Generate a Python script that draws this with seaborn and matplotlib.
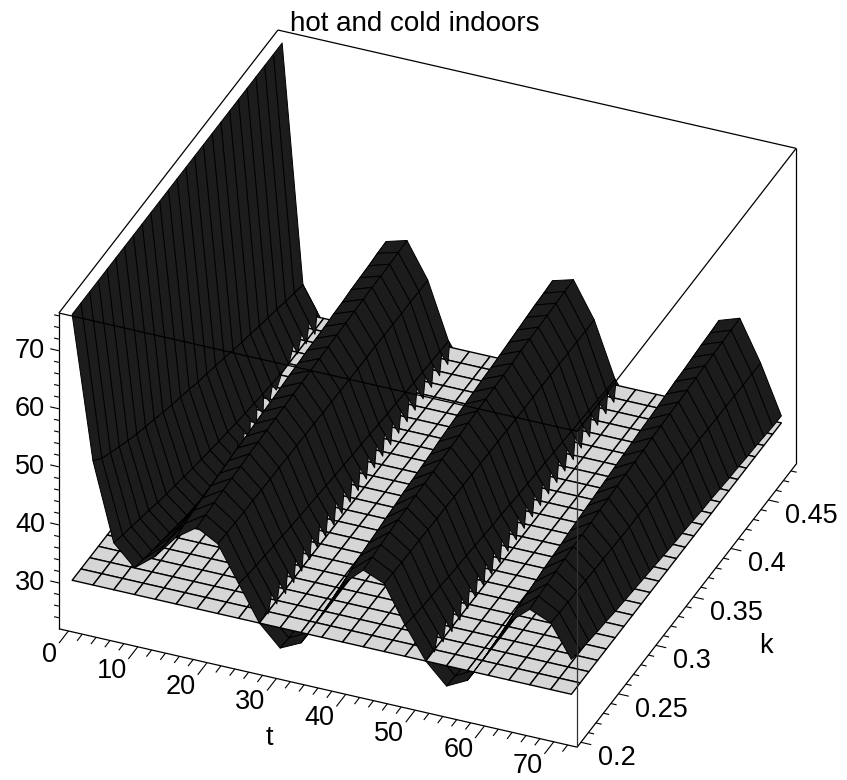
"""Hot and cold indoors: temperature surface over time t and rate k, with a flat reference plane."""
import matplotlib
matplotlib.use("Agg")
import matplotlib.pyplot as plt
import numpy as np
import seaborn as sns
from mpl_toolkits.mplot3d import proj3d
from mpl_toolkits.mplot3d.art3d import Poly3DCollection

t_grid = [0, 3, 6, 9, 12, 15, 18, 21, 24, 27, 30, 33, 36, 39, 42, 45, 48, 51, 54, 57, 60, 63, 66, 69, 72]
k_grid = [0.2, 0.2117, 0.2233, 0.235, 0.2467, 0.2583, 0.27, 0.2817, 0.2933, 0.305, 0.3167, 0.3283, 0.34,
          0.3517, 0.3633, 0.375, 0.3867, 0.3983, 0.41, 0.4217, 0.4333, 0.445, 0.4567, 0.4683, 0.48]
plane_level = 30

# temperature, one list per time step, running along k
temp_t00 = [75.8] * 25
temp_t03 = [51.4, 49.9, 48.9, 48.0, 47.1, 46.3, 45.6, 44.9, 44.2, 43.5, 42.9, 42.3, 41.6, 41.1, 40.5, 39.9, 39.3, 38.7, 38.2, 37.6, 37.1, 36.6, 36.0, 35.5, 35.0]
temp_t06 = [38.1, 37.5, 37.0, 36.4, 35.9, 35.3, 34.8, 34.3, 33.9, 33.4, 33.0, 32.6, 32.2, 31.9, 31.5, 31.2, 30.9, 30.6, 30.3, 30.1, 29.9, 29.7, 29.5, 29.2, 29.0]
temp_t09 = [34.6, 34.1, 33.6, 33.2, 32.8, 32.3, 31.9, 31.4, 31.0, 30.5, 30.0, 29.6, 29.2, 28.9, 28.6, 28.2, 27.9, 27.6, 27.3, 27.1, 26.9, 26.7, 26.4, 26.2, 26.0]
temp_t12 = [37.4, 37.3, 37.2, 37.1, 37.0, 37.0, 36.9, 36.8, 36.8, 36.7, 36.7, 36.6, 36.6, 36.5, 36.5, 36.4, 36.4, 36.3, 36.3, 36.2, 36.2, 36.1, 36.1, 36.0, 36.0]
temp_t15 = [41.5, 41.9, 42.2, 42.4, 42.6, 42.8, 43.0, 43.2, 43.3, 43.5, 43.7, 43.8, 44.0, 44.2, 44.3, 44.5, 44.6, 44.7, 44.9, 45.0, 45.2, 45.3, 45.4, 45.6, 45.7]
temp_t18 = [44.0, 44.2, 44.4, 44.6, 44.7, 44.8, 45.0, 45.1, 45.2, 45.3, 45.4, 45.5, 45.6, 45.7, 45.8, 45.9, 46.0, 46.1, 46.2, 46.3, 46.4, 46.4, 46.5, 46.6, 46.7]
temp_t21 = [42.0, 41.9, 41.8, 41.7, 41.7, 41.6, 41.5, 41.5, 41.4, 41.4, 41.3, 41.3, 41.2, 41.2, 41.1, 41.1, 41.0, 41.0, 41.0, 40.9, 40.9, 40.8, 40.8, 40.7, 40.7]
temp_t24 = [36.0, 35.5, 35.2, 35.0, 34.7, 34.5, 34.2, 34.0, 33.8, 33.6, 33.4, 33.2, 33.0, 32.8, 32.7, 32.5, 32.3, 32.1, 32.0, 31.8, 31.6, 31.5, 31.3, 31.2, 31.0]
temp_t27 = [30.0, 29.6, 29.4, 29.2, 29.0, 28.8, 28.6, 28.4, 28.2, 28.1, 27.9, 27.8, 27.6, 27.5, 27.3, 27.2, 27.0, 26.9, 26.8, 26.6, 26.5, 26.4, 26.3, 26.1, 26.0]
temp_t30 = [26.5, 26.3, 26.1, 26.0, 25.9, 25.7, 25.6, 25.5, 25.4, 25.3, 25.2, 25.1, 25.0, 24.9, 24.8, 24.7, 24.7, 24.6, 24.5, 24.4, 24.3, 24.2, 24.2, 24.1, 24.0]
temp_t33 = [28.2, 28.1, 28.0, 27.9, 27.9, 27.8, 27.8, 27.7, 27.7, 27.6, 27.6, 27.5, 27.5, 27.4, 27.4, 27.4, 27.3, 27.3, 27.2, 27.2, 27.2, 27.1, 27.1, 27.0, 27.0]
temp_t36 = [34.0, 34.2, 34.3, 34.4, 34.5, 34.6, 34.7, 34.8, 34.9, 35.0, 35.0, 35.1, 35.2, 35.3, 35.3, 35.4, 35.5, 35.5, 35.6, 35.7, 35.7, 35.8, 35.9, 35.9, 36.0]
temp_t39 = [40.0, 40.5, 40.9, 41.2, 41.4, 41.7, 41.9, 42.2, 42.4, 42.6, 42.8, 43.1, 43.3, 43.5, 43.7, 43.9, 44.1, 44.2, 44.4, 44.6, 44.8, 45.0, 45.2, 45.3, 45.5]
temp_t42 = [43.2, 43.5, 43.7, 43.9, 44.1, 44.2, 44.4, 44.5, 44.6, 44.8, 44.9, 45.0, 45.2, 45.3, 45.4, 45.5, 45.6, 45.7, 45.9, 46.0, 46.1, 46.2, 46.3, 46.4, 46.5]
temp_t45 = [41.7, 41.6, 41.5, 41.4, 41.4, 41.3, 41.2, 41.2, 41.1, 41.1, 41.0, 41.0, 40.9, 40.9, 40.8, 40.8, 40.7, 40.7, 40.7, 40.6, 40.6, 40.5, 40.5, 40.4, 40.4]
temp_t48 = [35.4, 35.0, 34.7, 34.5, 34.3, 34.0, 33.8, 33.7, 33.5, 33.3, 33.1, 33.0, 32.8, 32.6, 32.5, 32.3, 32.2, 32.0, 31.9, 31.7, 31.6, 31.4, 31.3, 31.1, 31.0]
temp_t51 = [30.0, 29.6, 29.4, 29.2, 29.0, 28.8, 28.6, 28.4, 28.2, 28.1, 27.9, 27.8, 27.6, 27.5, 27.3, 27.2, 27.0, 26.9, 26.8, 26.6, 26.5, 26.4, 26.3, 26.1, 26.0]
temp_t54 = [26.5, 26.3, 26.1, 26.0, 25.9, 25.7, 25.6, 25.5, 25.4, 25.3, 25.2, 25.1, 25.0, 24.9, 24.8, 24.7, 24.7, 24.6, 24.5, 24.4, 24.3, 24.2, 24.2, 24.1, 24.0]
temp_t57 = [28.3, 28.2, 28.1, 28.0, 28.0, 27.9, 27.8, 27.8, 27.7, 27.7, 27.6, 27.6, 27.5, 27.5, 27.4, 27.4, 27.3, 27.3, 27.2, 27.2, 27.2, 27.1, 27.1, 27.0, 27.0]
temp_t60 = [34.0, 34.2, 34.3, 34.4, 34.5, 34.6, 34.7, 34.8, 34.9, 35.0, 35.0, 35.1, 35.2, 35.3, 35.3, 35.4, 35.5, 35.5, 35.6, 35.7, 35.7, 35.8, 35.9, 35.9, 36.0]
temp_t63 = [40.0, 40.5, 40.8, 41.1, 41.4, 41.6, 41.8, 42.1, 42.3, 42.5, 42.7, 42.9, 43.1, 43.3, 43.5, 43.7, 43.8, 44.0, 44.2, 44.4, 44.5, 44.7, 44.9, 45.0, 45.2]
temp_t66 = [43.0, 43.3, 43.5, 43.7, 43.9, 44.1, 44.2, 44.3, 44.5, 44.6, 44.8, 44.9, 45.0, 45.1, 45.3, 45.4, 45.5, 45.6, 45.7, 45.9, 46.0, 46.1, 46.2, 46.3, 46.4]
temp_t69 = [41.5, 41.3, 41.2, 41.1, 41.0, 40.9, 40.8, 40.7, 40.6, 40.5, 40.5, 40.4, 40.3, 40.2, 40.2, 40.1, 40.0, 40.0, 39.9, 39.8, 39.8, 39.7, 39.6, 39.6, 39.5]
temp_t72 = [36.0, 35.6, 35.3, 35.0, 34.8, 34.5, 34.3, 34.1, 33.9, 33.7, 33.5, 33.3, 33.1, 33.0, 32.8, 32.6, 32.5, 32.3, 32.1, 32.0, 31.8, 31.7, 31.5, 31.3, 31.2]

temp_columns = [temp_t00, temp_t03, temp_t06, temp_t09, temp_t12, temp_t15, temp_t18, temp_t21, temp_t24,
                temp_t27, temp_t30, temp_t33, temp_t36, temp_t39, temp_t42, temp_t45, temp_t48, temp_t51,
                temp_t54, temp_t57, temp_t60, temp_t63, temp_t66, temp_t69, temp_t72]

t_ticks = [0, 10, 20, 30, 40, 50, 60, 70]
k_ticks = [0.2, 0.25, 0.3, 0.35, 0.4, 0.45]
k_tick_labels = ["0.2", "0.25", "0.3", "0.35", "0.4", "0.45"]
z_ticks = [30, 40, 50, 60, 70]

T_LIM = (-1.37, 73.37)
K_LIM = (0.195, 0.487)
Z_LIM = (22.1, 76.5)
DARK = "#1c1c1c"
PLANE = "#d6d6d6"
TOOTH = 0.15  # how far the jagged edge on the plane swings, as a share of a cell

sns.set_theme(style="white")
plt.rcParams["font.family"] = ["Liberation Sans", "DejaVu Sans"]

fig = plt.figure(figsize=(8.47, 7.8), dpi=100)
ax = fig.add_axes([-0.0077, -0.0117, 1.0, 1.0], projection="3d", computed_zorder=False)
ax.set_proj_type("ortho")
ax.view_init(elev=32.9, azim=-67.2)
ax.set_xlim(*T_LIM)
ax.set_ylim(*K_LIM)
ax.set_zlim(*Z_LIM)
ax.set_box_aspect((562, 565, 376), zoom=1.097)
ax.set_axis_off()

T, K = np.meshgrid(t_grid, k_grid)
Z = np.column_stack(temp_columns)


def on_edge(p, q, f):
    return tuple(a + (b - a) * f for a, b in zip(p, q))


def crossing(p, q):
    return (p[2] - plane_level) / (p[2] - q[2])


def clip_above(quad):
    out = []
    for n, p in enumerate(quad):
        q = quad[(n + 1) % len(quad)]
        if p[2] >= plane_level:
            out.append(p)
        if (p[2] >= plane_level) != (q[2] >= plane_level):
            out.append(on_edge(p, q, crossing(p, q)))
    return out


# cells reaching under the plane go behind it, the parts above it go over it
below, above = [], []
for j in range(len(k_grid) - 1):
    for i in range(len(t_grid) - 1):
        a0 = (T[j, i], K[j, i], Z[j, i])
        b0 = (T[j, i + 1], K[j, i + 1], Z[j, i + 1])
        b1 = (T[j + 1, i + 1], K[j + 1, i + 1], Z[j + 1, i + 1])
        a1 = (T[j + 1, i], K[j + 1, i], Z[j + 1, i])
        quad = [a0, b0, b1, a1]
        zs = [q[2] for q in quad]
        if min(zs) < plane_level:
            below.append(quad)
        if max(zs) < plane_level:
            continue
        if min(a0[2], a1[2]) >= plane_level and max(b0[2], b1[2]) < plane_level:
            # falling side: the edge on the plane is jagged, one tooth per cell
            f0 = min(crossing(a0, b0) + TOOTH, 1.0)
            f1 = max(crossing(a1, b1) - TOOTH, 0.05)
            above.append([a0, on_edge(a0, b0, f0), on_edge(a1, b1, f1), a1])
        else:
            above.append(clip_above(quad))

for quads, order in ((below, 1), (above, 3)):
    coll = Poly3DCollection(quads, facecolor=DARK, edgecolor="black", linewidths=0.7, zsort="average")
    coll.set_zorder(order)
    ax.add_collection3d(coll)

ax.plot_surface(T, K, np.full_like(Z, plane_level), rstride=1, cstride=1, color=PLANE, edgecolor="black",
                linewidth=1.0, shade=False, zorder=2)


def line3(xs, ys, zs, lw=0.9, color="black"):
    ax.plot(xs, ys, zs, color=color, lw=lw, zorder=5, solid_capstyle="butt")


t0, t1 = T_LIM
k0, k1 = K_LIM
z0, z1 = Z_LIM
# front and top edges of the box, the back ones stay hidden
line3([t0, t1], [k0, k0], [z0, z0])
line3([t1, t1], [k0, k1], [z0, z0])
line3([t0, t0], [k0, k0], [z0, z1])
line3([t1, t1], [k0, k0], [z0, z1], color="#333333")
line3([t1, t1], [k1, k1], [z0, z1])
line3([t0, t1], [k0, k0], [z1, z1])
line3([t1, t1], [k0, k1], [z1, z1])
line3([t1, t0], [k1, k1], [z1, z1])
line3([t0, t0], [k1, k0], [z1, z1])

# tick marks, sized in data units along the neighbouring box direction
for v in np.arange(0, 73, 2):
    size = 1.0 if v % 10 == 0 else 0.55
    line3([v, v], [k0, k0 - 0.0125 * size], [z0, z0], lw=0.8)
for v in np.arange(20, 49, 1):
    size = 1.0 if v % 5 == 0 else 0.55
    line3([t1, t1 + 1.5 * size], [v / 100, v / 100], [z0, z0], lw=0.8)
for v in np.arange(24, 77, 2):
    size = 1.0 if v % 10 == 0 else 0.55
    line3([t0 - 1.25 * size, t0], [k0, k0], [v, v], lw=0.8)


def label(x, y, z, text, dx, dy, ha="center"):
    px, py, _ = proj3d.proj_transform(x, y, z, ax.get_proj())
    ax.annotate(text, xy=(px, py), xytext=(dx, dy), textcoords="offset pixels",
                ha=ha, va="center", fontsize=19.5, color="black", zorder=6, annotation_clip=False)


for v in t_ticks:
    label(v, k0, z0, str(v), -11, -24, ha="right")
for v, txt in zip(k_ticks, k_tick_labels):
    label(t1, v, z0, txt, 17, -16, ha="left")
for v in z_ticks:
    label(t0, k0, v, str(v), -14, 0, ha="right")
label(36, k0, z0, "t", -49, -50)
label(t1, 0.345, z0, "k", 76, -44)

fig.text(415 / 847, 1 - 24 / 780, "hot and cold indoors", ha="center", va="center", fontsize=20, color="black")
fig.savefig("out.png", dpi=100, facecolor="white")
